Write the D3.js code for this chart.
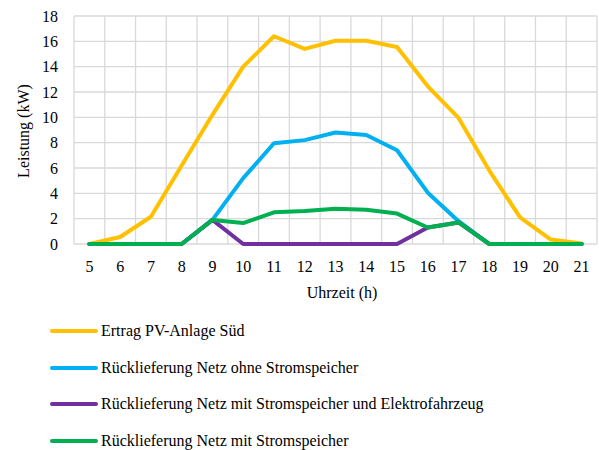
<!DOCTYPE html>
<html>
<head>
<meta charset="utf-8">
<script src="https://cdn.jsdelivr.net/npm/d3@7"></script>
</head>
<body style="margin:0">
<script>
// Hourly power values (kW) for a south-facing PV system and grid feed-in scenarios
const hours = [5, 6, 7, 8, 9, 10, 11, 12, 13, 14, 15, 16, 17, 18, 19, 20, 21];
const yTicks = [0, 2, 4, 6, 8, 10, 12, 14, 16, 18];

const ertragPV        = [0, 0.55, 2.15, 6.2, 10.2, 14.0, 16.4, 15.4, 16.05, 16.05, 15.55, 12.45, 9.95, 5.8, 2.1, 0.35, 0.05];
const ohneSpeicher    = [0, 0, 0, 0, 1.9, 5.2, 7.95, 8.2, 8.8, 8.6, 7.4, 4.05, 1.8, 0, 0, 0, 0];
const mitSpeicherEV   = [0, 0, 0, 0, 1.9, 0, 0, 0, 0, 0, 0, 1.3, 1.7, 0, 0, 0, 0];
const mitSpeicher     = [0, 0, 0, 0, 1.9, 1.65, 2.5, 2.6, 2.78, 2.7, 2.4, 1.3, 1.7, 0, 0, 0, 0];

const seriesNames = [
  "Ertrag PV-Anlage Süd",
  "Rücklieferung Netz ohne Stromspeicher",
  "Rücklieferung Netz mit Stromspeicher und Elektrofahrzeug",
  "Rücklieferung Netz mit Stromspeicher"
];
const seriesValues = [ertragPV, ohneSpeicher, mitSpeicherEV, mitSpeicher];
const seriesColors = ["#FFC000", "#00B0F0", "#7030A0", "#00B050"];

const W = 599, H = 450;
const plot = { left: 74, right: 597, top: 16, bottom: 244 };

const svg = d3.select("body").append("svg")
  .attr("width", W).attr("height", H)
  .attr("font-family", "Liberation Serif")
  .attr("font-size", 16)
  .style("display", "block");

// Every text inside the chart uses one serif face
function serif(sel) {
  return sel.attr("font-family", "Liberation Serif").attr("font-size", 16);
}

const x = d3.scaleBand().domain(hours).range([plot.left, plot.right]).padding(0);
const y = d3.scaleLinear().domain([0, 18]).range([plot.bottom, plot.top]);

// Grid: horizontal lines at every y tick, vertical lines between categories
const grid = svg.append("g").attr("stroke", "#d9d9d9").attr("stroke-width", 1.3);
yTicks.forEach(t => {
  grid.append("line")
    .attr("x1", plot.left).attr("x2", plot.right)
    .attr("y1", y(t)).attr("y2", y(t));
});
hours.forEach(h => {
  grid.append("line")
    .attr("x1", x(h)).attr("x2", x(h))
    .attr("y1", plot.top).attr("y2", plot.bottom);
});
grid.append("line")
  .attr("x1", plot.right).attr("x2", plot.right)
  .attr("y1", plot.top).attr("y2", plot.bottom);

// Y axis labels
svg.append("g")
  .attr("transform", `translate(${plot.left - 16},0)`)
  .call(d3.axisLeft(y).tickValues(yTicks).tickSize(0).tickPadding(0))
  .call(serif)
  .call(g => g.select(".domain").remove())
  .selectAll("text")
  .call(serif)
  .attr("fill", "#000");

// X axis labels
svg.append("g")
  .attr("transform", `translate(0,${plot.bottom + 17})`)
  .call(d3.axisBottom(x).tickSize(0).tickPadding(0))
  .call(serif)
  .call(g => g.select(".domain").remove())
  .selectAll("text")
  .call(serif)
  .attr("fill", "#000");

// Axis titles
svg.append("text")
  .attr("x", 342)
  .attr("y", 298)
  .attr("text-anchor", "middle")
  .call(serif)
  .text("Uhrzeit (h)");

svg.append("text")
  .attr("transform", `translate(29,${(plot.top + plot.bottom) / 2 + 1}) rotate(-90)`)
  .attr("text-anchor", "middle")
  .call(serif)
  .text("Leistung (kW)");

// Lines
const line = d3.line()
  .x((d, i) => x(hours[i]) + x.bandwidth() / 2)
  .y(d => y(d));

svg.append("g").selectAll("path")
  .data(seriesValues)
  .join("path")
  .attr("d", d => line(d))
  .attr("fill", "none")
  .attr("stroke", (d, i) => seriesColors[i])
  .attr("stroke-width", 4)
  .attr("stroke-linejoin", "round")
  .attr("stroke-linecap", "round");

// Legend
const legendY = [331, 368, 404, 441];
seriesNames.forEach((name, i) => {
  svg.append("line")
    .attr("x1", 52).attr("x2", 96)
    .attr("y1", legendY[i]).attr("y2", legendY[i])
    .attr("stroke", seriesColors[i])
    .attr("stroke-width", 4)
    .attr("stroke-linecap", "round");
  svg.append("text")
    .attr("x", 101)
    .attr("y", legendY[i] + 5)
    .call(serif)
    .text(name);
});
</script>
</body>
</html>
